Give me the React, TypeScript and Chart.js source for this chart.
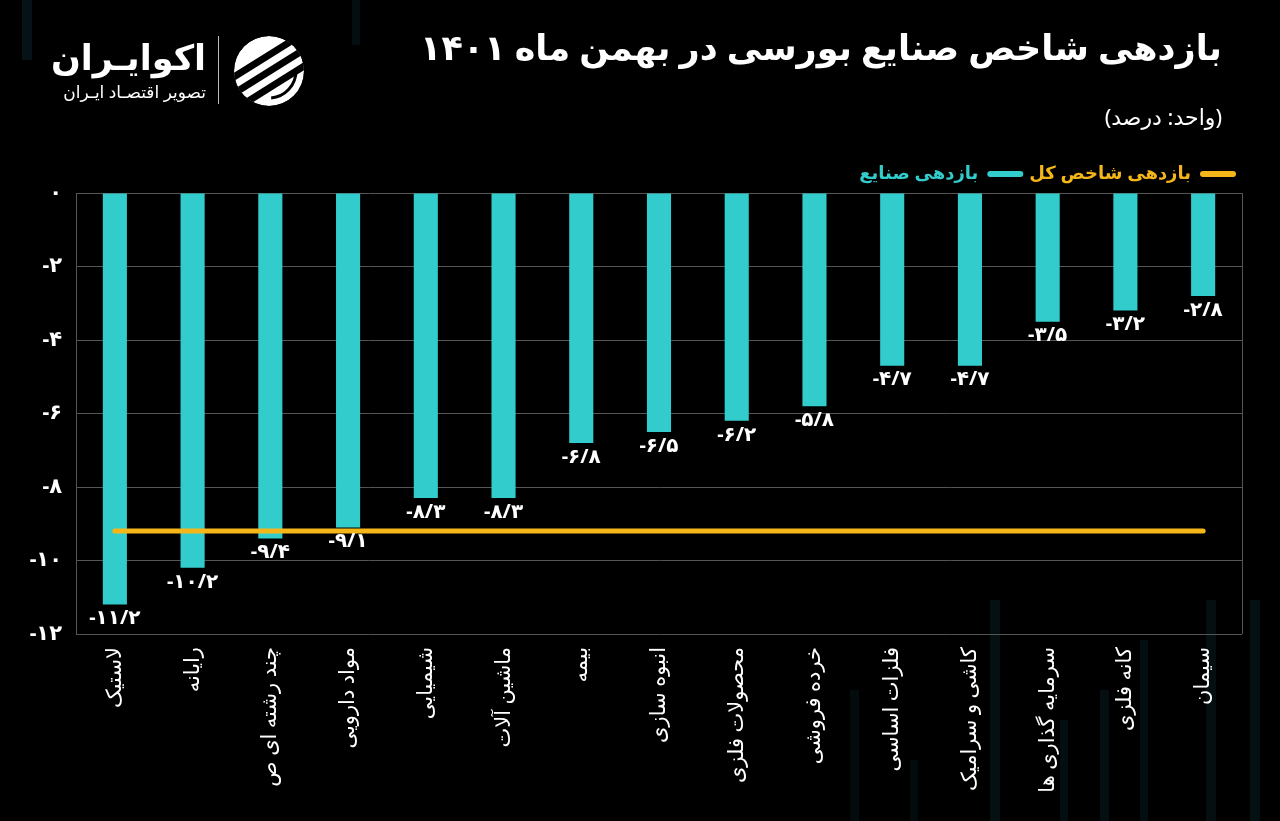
import React, { useEffect, useRef } from "react";
import { Chart, registerables } from "chart.js";

Chart.register(...registerables);

const categories = [
  "لاستیک",
  "رایانه",
  "چند رشته ای ص",
  "مواد دارویی",
  "شیمیایی",
  "ماشین آلات",
  "بیمه",
  "انبوه سازی",
  "محصولات فلزی",
  "خرده فروشی",
  "فلزات اساسی",
  "کاشی و سرامیک",
  "سرمایه گذاری ها",
  "کانه فلزی",
  "سیمان",
];

const industryReturn = [-11.2, -10.2, -9.4, -9.1, -8.3, -8.3, -6.8, -6.5, -6.2, -5.8, -4.7, -4.7, -3.5, -3.2, -2.8];

const indexReturn = [-9.2, -9.2, -9.2, -9.2, -9.2, -9.2, -9.2, -9.2, -9.2, -9.2, -9.2, -9.2, -9.2, -9.2, -9.2];

const yTicks = [0, -2, -4, -6, -8, -10, -12];

const seriesNames = ["بازدهی شاخص کل", "بازدهی صنایع"];

const TEAL = "#33CCCC";
const GOLD = "#F5B61A";
const FONT = "'Noto Sans', 'DejaVu Sans', sans-serif";

const faDigits = "۰۱۲۳۴۵۶۷۸۹";
function toFa(v: number): string {
  const s = String(v).replace(".", "/");
  // force left-to-right visual order so the minus sign stays on the left
  return "\u202D" + s.replace(/[0-9]/g, (d) => faDigits[Number(d)]) + "\u202C";
}

const barLabelPlugin = {
  id: "barLabels",
  afterDatasetsDraw(chart: any) {
    const ctx = chart.ctx;
    chart.data.datasets.forEach((ds: any, i: number) => {
      if (ds.type !== "bar") return;
      const meta = chart.getDatasetMeta(i);
      meta.data.forEach((el: any, j: number) => {
        ctx.save();
        ctx.direction = "ltr";
        ctx.fillStyle = "#ffffff";
        ctx.font = `bold 20px ${FONT}`;
        ctx.textAlign = "center";
        ctx.textBaseline = "top";
        ctx.fillText(toFa(ds.data[j]), el.x, el.y + 4);
        ctx.restore();
      });
    });
  },
};

const rightBorderPlugin = {
  id: "rightBorder",
  beforeDatasetsDraw(chart: any) {
    const { ctx, chartArea } = chart;
    ctx.save();
    ctx.strokeStyle = "#555555";
    ctx.lineWidth = 1;
    ctx.beginPath();
    ctx.moveTo(chartArea.right + 0.5, chartArea.top);
    ctx.lineTo(chartArea.right + 0.5, chartArea.bottom);
    ctx.stroke();
    ctx.restore();
  },
};

function Logo() {
  return (
    <div style={{ position: "absolute", left: 48, top: 30, width: 270, height: 80 }}>
      <div
        style={{
          position: "absolute",
          right: 112,
          top: 5,
          color: "#fff",
          fontFamily: FONT,
          fontWeight: 700,
          fontSize: 35,
          lineHeight: "44px",
          direction: "rtl",
          whiteSpace: "nowrap",
        }}
      >
        اکوایـران
      </div>
      <div
        style={{
          position: "absolute",
          right: 112,
          top: 50,
          color: "#fff",
          fontFamily: FONT,
          fontSize: 17,
          lineHeight: "24px",
          direction: "rtl",
          whiteSpace: "nowrap",
        }}
      >
        تصویر اقتصـاد ایـران
      </div>
      <div style={{ position: "absolute", left: 170, top: 6, width: 1, height: 68, background: "#bbb" }} />
      <svg style={{ position: "absolute", left: 184, top: 4 }} width="74" height="74" viewBox="0 0 74 74">
        <defs>
          <clipPath id="lc">
            <circle cx="37" cy="37" r="35" />
          </clipPath>
        </defs>
        <g clipPath="url(#lc)">
          <circle cx="37" cy="37" r="35" fill="#fff" />
          <g transform="rotate(-32 37 37)">
            <rect x="-10" y="20" width="100" height="7" fill="#000" rx="3" />
            <rect x="-10" y="34" width="100" height="7" fill="#000" rx="3" />
            <rect x="-10" y="48" width="100" height="7" fill="#000" rx="3" />
          </g>
          <circle cx="37" cy="37" r="27" fill="none" stroke="#000" strokeWidth="3" strokeDasharray="40 130" />
        </g>
      </svg>
    </div>
  );
}

const decoBars = [
  { l: 22, t: 0, w: 10, h: 60, o: 0.2 },
  { l: 352, t: 0, w: 8, h: 45, o: 0.15 },
  { l: 990, t: 600, w: 10, h: 221, o: 0.18 },
  { l: 1060, t: 720, w: 8, h: 101, o: 0.14 },
  { l: 1100, t: 690, w: 9, h: 131, o: 0.16 },
  { l: 1140, t: 640, w: 8, h: 181, o: 0.14 },
  { l: 1206, t: 600, w: 10, h: 221, o: 0.16 },
  { l: 1250, t: 600, w: 10, h: 221, o: 0.18 },
  { l: 850, t: 690, w: 9, h: 131, o: 0.12 },
  { l: 910, t: 760, w: 8, h: 61, o: 0.12 },
];

export default function App() {
  const canvasRef = useRef<HTMLCanvasElement | null>(null);

  useEffect(() => {
    document.body.style.margin = "0";
    document.body.style.background = "#000";
    const canvas = canvasRef.current;
    if (!canvas) return;
    const chart = new Chart(canvas, {
      data: {
        labels: categories,
        datasets: [
          {
            type: "line",
            label: seriesNames[0],
            data: indexReturn,
            borderColor: GOLD,
            backgroundColor: GOLD,
            borderWidth: 5,
            borderCapStyle: "round",
            pointRadius: 0,
            order: 0,
          },
          {
            type: "bar",
            label: seriesNames[1],
            data: industryReturn,
            backgroundColor: TEAL,
            borderWidth: 0,
            barPercentage: 0.31,
            categoryPercentage: 1,
            order: 1,
          },
        ],
      } as any,
      options: {
        animation: false,
        responsive: false,
        maintainAspectRatio: false,
        layout: { padding: { top: 159, right: 38, left: 0, bottom: 0 } },
        plugins: {
          tooltip: { enabled: false },
          legend: {
            display: true,
            position: "top",
            align: "start",
            rtl: true,
            textDirection: "rtl",
            labels: {
              boxWidth: 36,
              boxHeight: 6,
              useBorderRadius: true,
              borderRadius: 3,
              padding: 6,
              font: { family: FONT, size: 18, weight: "bold" },
              generateLabels(chart: any) {
                const items = Chart.defaults.plugins.legend.labels.generateLabels(chart);
                return items.map((it: any) => {
                  const ds = chart.data.datasets[it.datasetIndex];
                  const c = ds.type === "line" ? GOLD : TEAL;
                  return { ...it, fillStyle: c, strokeStyle: c, lineWidth: 0, fontColor: c };
                });
              },
            },
          },
        },
        scales: {
          x: {
            grid: { display: false },
            border: { display: false },
            ticks: {
              color: "#ffffff",
              maxRotation: 90,
              minRotation: 90,
              autoSkip: false,
              padding: 5,
              font: { family: FONT, size: 21 },
            },
            afterFit(scale: any) {
              scale.height = 187;
            },
          },
          y: {
            min: -12,
            max: 0,
            afterBuildTicks(scale: any) {
              scale.ticks = yTicks.map((v) => ({ value: v }));
            },
            grid: { color: "#555555", lineWidth: 1, drawTicks: false },
            border: { display: true, color: "#555555" },
            ticks: {
              color: "#ffffff",
              padding: 14,
              font: { family: FONT, size: 21, weight: "bold" },
              callback: (v: any) => toFa(Number(v)),
            },
            afterFit(scale: any) {
              scale.width = 76;
            },
          },
        },
      } as any,
      plugins: [barLabelPlugin, rightBorderPlugin],
    });
    return () => chart.destroy();
  }, []);

  return (
    <div style={{ position: "absolute", left: 0, top: 0, width: 1280, height: 821, background: "#000", overflow: "hidden" }}>
      {decoBars.map((b, i) => (
        <div
          key={i}
          style={{ position: "absolute", left: b.l, top: b.t, width: b.w, height: b.h, background: `rgba(30,90,105,${b.o})` }}
        />
      ))}
      <canvas ref={canvasRef} width={1280} height={821} style={{ position: "absolute", left: 0, top: 0 }} />
      <Logo />
      <div
        style={{
          position: "absolute",
          right: 58,
          top: 22,
          color: "#fff",
          fontFamily: FONT,
          fontWeight: 700,
          fontSize: 35,
          lineHeight: "50px",
          direction: "rtl",
          whiteSpace: "nowrap",
        }}
      >
        بازدهی شاخص صنایع بورسی در بهمن ماه ۱۴۰۱
      </div>
      <div
        style={{
          position: "absolute",
          right: 58,
          top: 100,
          color: "#fff",
          fontFamily: FONT,
          fontSize: 22,
          lineHeight: "32px",
          direction: "rtl",
          whiteSpace: "nowrap",
        }}
      >
        (واحد: درصد)
      </div>
    </div>
  );
}
